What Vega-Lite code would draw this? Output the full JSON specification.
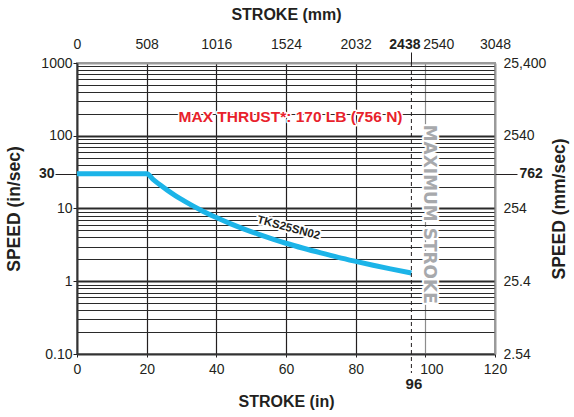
{
  "$schema": "https://vega.github.io/schema/vega-lite/v6.json",
  "width": 418,
  "height": 291,
  "autosize": {"type": "none"},
  "padding": {"left": 77, "top": 63, "right": 79, "bottom": 63},
  "background": "white",
  "config": {
    "font": "Liberation Sans",
    "view": {"stroke": "#9a9a9a", "strokeWidth": 2},
    "axis": {
      "labelFont": "Liberation Sans",
      "labelFontSize": 14,
      "labelColor": "#231f20",
      "titleFont": "Liberation Sans",
      "titleFontSize": 16,
      "titleFontWeight": "bold",
      "titleColor": "#231f20",
      "grid": false,
      "tickColor": "#231f20",
      "domainColor": "#231f20",
      "labelOverlap": false,
      "labelFlush": false
    }
  },
  "resolve": {"axis": {"x": "independent", "y": "independent"}},
  "layer": [
    {
      "data": {"values": [
        {"stroke_in": 0, "speed": 30},
        {"stroke_in": 20, "speed": 30},
        {"stroke_in": 22, "speed": 24.79},
        {"stroke_in": 24, "speed": 20.83},
        {"stroke_in": 26, "speed": 17.75},
        {"stroke_in": 28, "speed": 15.31},
        {"stroke_in": 30, "speed": 13.33},
        {"stroke_in": 33, "speed": 11.02},
        {"stroke_in": 36, "speed": 9.26},
        {"stroke_in": 40, "speed": 7.5},
        {"stroke_in": 44, "speed": 6.2},
        {"stroke_in": 48, "speed": 5.21},
        {"stroke_in": 52, "speed": 4.44},
        {"stroke_in": 56, "speed": 3.83},
        {"stroke_in": 60, "speed": 3.33},
        {"stroke_in": 65, "speed": 2.84},
        {"stroke_in": 70, "speed": 2.45},
        {"stroke_in": 75, "speed": 2.13},
        {"stroke_in": 80, "speed": 1.875},
        {"stroke_in": 85, "speed": 1.66},
        {"stroke_in": 90, "speed": 1.48},
        {"stroke_in": 96, "speed": 1.3}
      ]},
      "mark": {"type": "line", "color": "#1cb4e8", "strokeWidth": 5, "strokeCap": "butt", "interpolate": "monotone"},
      "encoding": {
        "x": {"field": "stroke_in", "type": "quantitative",
          "scale": {"domain": [0, 120], "nice": false, "zero": false},
          "axis": {"orient": "bottom", "values": [0, 20, 40, 60, 80, 100, 120], "title": "STROKE (in)",
            "tickSize": 3, "labelPadding": 5, "titlePadding": 17, "domainColor": "#333", "domainWidth": 2,
            "labelOffset": {"condition": {"test": "datum.value == 100", "value": 6}, "value": 0},
            "labelExpr": "format(datum.value, 'd')"}},
        "y": {"field": "speed", "type": "quantitative",
          "scale": {"type": "log", "domain": [0.1, 1000], "nice": false},
          "axis": {"orient": "left", "values": [0.1, 1, 10, 100, 1000], "title": "SPEED (in/sec)",
            "titleFontSize": 17.5, "tickSize": 4, "labelPadding": 1, "titlePadding": 17,
            "domainColor": "#333", "domainWidth": 2,
            "labelExpr": "datum.value < 0.5 ? '0.10' : format(datum.value, 'd')"}}
      }
    },
    {
      "data": {"values": [{"stroke_in": 96, "top": 1000, "bottom": 0.0548}]},
      "mark": {"type": "rule", "color": "#231f20", "strokeWidth": 1, "strokeDash": [4, 3]},
      "encoding": {
        "x": {"field": "stroke_in", "type": "quantitative",
          "scale": {"domain": [0, 120], "nice": false, "zero": false},
          "axis": {"orient": "top", "values": [0, 20, 40, 60, 80, 100, 120], "title": "STROKE (mm)",
            "tickSize": 0, "labelPadding": 12, "titlePadding": 15, "domainColor": "#9a9a9a", "domainWidth": 2,
            "labelOffset": {"condition": {"test": "datum.value == 100", "value": 13}, "value": 0},
            "labelExpr": "format(datum.value * 25.4, '.0f')"}},
        "y": {"field": "top", "type": "quantitative",
          "scale": {"type": "log", "domain": [0.1, 1000], "nice": false},
          "axis": {"orient": "right", "values": [0.1, 1, 10, 100, 1000], "title": "SPEED (mm/sec)",
            "titleFontSize": 17.5, "titleAngle": 270, "titleBaseline": "top", "tickSize": 0, "labelPadding": 8, "titlePadding": 5,
            "domainColor": "#9a9a9a", "domainWidth": 2,
            "labelExpr": "datum.value < 0.5 ? '2.54' : datum.value < 5 ? '25.4' : datum.value < 50 ? '254' : datum.value < 500 ? '2540' : '25,400'"}},
        "y2": {"field": "bottom"}
      }
    },
    {
      "data": {"values": [{"stroke_in": 61.3, "speed": 179, "label": "MAX THRUST*: 170 LB (756 N)"}]},
      "mark": {"type": "text", "font": "Liberation Sans", "fontWeight": "bold", "fontSize": 15.5,
        "color": "white", "stroke": "white", "strokeWidth": 3, "strokeJoin": "round", "baseline": "middle", "align": "center"},
      "encoding": {
        "x": {"field": "stroke_in", "type": "quantitative",
          "scale": {"domain": [0, 120], "nice": false, "zero": false},
          "axis": {"orient": "top", "values": [96], "title": null, "domain": false, "tickSize": 11,
            "tickColor": "#231f20", "labelPadding": 1, "labelOffset": -7, "labelFontWeight": "bold", "labelExpr": "'2438'"}},
        "y": {"field": "speed", "type": "quantitative",
          "scale": {"type": "log", "domain": [0.1, 1000], "nice": false},
          "axis": {"orient": "right", "values": [30], "title": null, "domain": false, "tickSize": 22,
            "labelPadding": 2, "labelFontWeight": "bold", "labelExpr": "'762'"}},
        "text": {"field": "label"}
      }
    },
    {
      "data": {"values": [{"stroke_in": 61.3, "speed": 179, "label": "MAX THRUST*: 170 LB (756 N)"}]},
      "mark": {"type": "text", "font": "Liberation Sans", "fontWeight": "bold", "fontSize": 15.5,
        "color": "#e8212b", "baseline": "middle", "align": "center"},
      "encoding": {
        "x": {"field": "stroke_in", "type": "quantitative",
          "scale": {"domain": [0, 120], "nice": false, "zero": false},
          "axis": {"orient": "bottom", "values": [96], "title": null, "domain": false, "ticks": false,
            "labelPadding": 22, "labelOffset": 2, "labelFontWeight": "bold", "labelFontSize": 15, "labelExpr": "'96'"}},
        "y": {"field": "speed", "type": "quantitative",
          "scale": {"type": "log", "domain": [0.1, 1000], "nice": false},
          "axis": {"orient": "left", "values": [30], "title": null, "domain": false, "tickSize": 22,
            "labelPadding": 1, "labelFontWeight": "bold", "labelExpr": "'30'"}},
        "text": {"field": "label"}
      }
    },
    {
      "data": {"values": [{"stroke_in": 60.7, "speed": 5.35, "label": "TKS25SN02"}]},
      "mark": {"type": "text", "font": "Liberation Sans", "fontWeight": "bold", "fontSize": 11.5, "angle": 15,
        "color": "white", "stroke": "white", "strokeWidth": 4, "strokeJoin": "round", "baseline": "middle", "align": "center"},
      "encoding": {
        "x": {"field": "stroke_in", "type": "quantitative",
          "scale": {"domain": [0, 120], "nice": false, "zero": false},
          "axis": {"orient": "bottom", "values": [20, 40, 60, 80, 100], "title": null, "domain": false,
            "ticks": false, "labels": false, "grid": true, "gridWidth": 1.2,
            "gridColor": {"condition": {"test": "datum.value == 100", "value": "#8c8c8c"}, "value": "#231f20"}}},
        "y": {"field": "speed", "type": "quantitative",
          "scale": {"type": "log", "domain": [0.1, 1000], "nice": false},
          "axis": {"orient": "left", "title": null, "domain": false, "ticks": false, "labels": false, "grid": true,
            "values": [0.2, 0.3, 0.4, 0.5, 0.6, 0.7, 0.8, 0.9, 1, 2, 3, 4, 5, 6, 7, 8, 9, 10, 20, 30, 40, 50, 60, 70, 80, 90, 100, 200, 300, 400, 500, 600, 700, 800, 900],
            "gridColor": "#2a2a2a",
            "gridWidth": {"condition": {"test": "datum.value == 1 || datum.value == 10 || datum.value == 100", "value": 2}, "value": 1}}},
        "text": {"field": "label"}
      }
    },
    {
      "data": {"values": [{"stroke_in": 60.7, "speed": 5.35, "label": "TKS25SN02"}]},
      "mark": {"type": "text", "font": "Liberation Sans", "fontWeight": "bold", "fontSize": 11.5, "angle": 15,
        "color": "#231f20", "baseline": "middle", "align": "center"},
      "encoding": {
        "x": {"field": "stroke_in", "type": "quantitative", "scale": {"domain": [0, 120], "nice": false, "zero": false}, "axis": null},
        "y": {"field": "speed", "type": "quantitative", "scale": {"type": "log", "domain": [0.1, 1000], "nice": false}, "axis": null},
        "text": {"field": "label"}
      }
    },
    {
      "data": {"values": [{"stroke_in": 101, "speed": 8.34, "label": "MAXIMUM STROKE"}]},
      "mark": {"type": "text", "font": "DejaVu Sans", "fontWeight": "bold", "fontSize": 17, "angle": 90,
        "color": "white", "stroke": "white", "strokeWidth": 4, "strokeJoin": "round", "baseline": "middle", "align": "center"},
      "encoding": {
        "x": {"field": "stroke_in", "type": "quantitative", "scale": {"domain": [0, 120], "nice": false, "zero": false}, "axis": null},
        "y": {"field": "speed", "type": "quantitative", "scale": {"type": "log", "domain": [0.1, 1000], "nice": false}, "axis": null},
        "text": {"field": "label"}
      }
    },
    {
      "data": {"values": [{"stroke_in": 101, "speed": 8.34, "label": "MAXIMUM STROKE"}]},
      "mark": {"type": "text", "font": "DejaVu Sans", "fontWeight": "bold", "fontSize": 17, "angle": 90,
        "color": "#a7a9ac", "baseline": "middle", "align": "center"},
      "encoding": {
        "x": {"field": "stroke_in", "type": "quantitative", "scale": {"domain": [0, 120], "nice": false, "zero": false}, "axis": null},
        "y": {"field": "speed", "type": "quantitative", "scale": {"type": "log", "domain": [0.1, 1000], "nice": false}, "axis": null},
        "text": {"field": "label"}
      }
    }
  ]
}
